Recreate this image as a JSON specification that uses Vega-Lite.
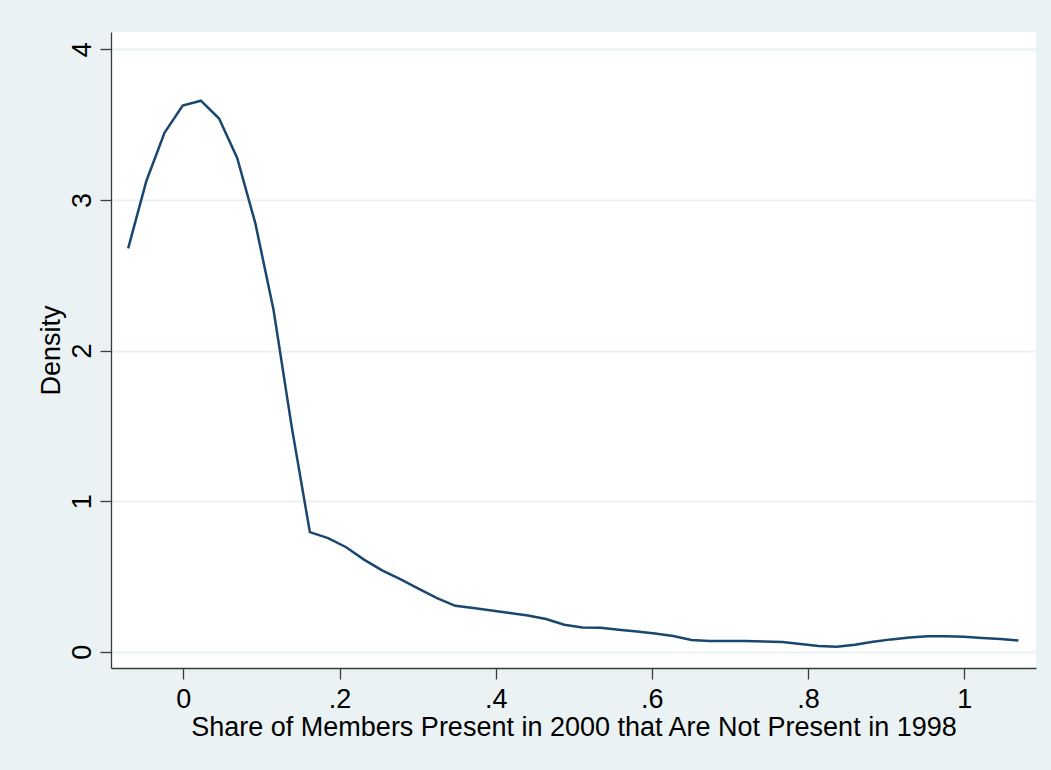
{
  "$schema": "https://vega.github.io/schema/vega-lite/v6.json",
  "width": 925,
  "height": 636,
  "autosize": {"type": "none"},
  "padding": {"left": 111, "top": 32, "right": 15, "bottom": 102},
  "background": "#EAF2F3",
  "config": {
    "view": {"fill": "white", "stroke": null},
    "font": "Liberation Sans"
  },
  "data": {
    "values": [
      {"x": -0.0707, "density": 2.678},
      {"x": -0.0474, "density": 3.126},
      {"x": -0.0242, "density": 3.445},
      {"x": -0.0009, "density": 3.626},
      {"x": 0.0224, "density": 3.659},
      {"x": 0.0457, "density": 3.540},
      {"x": 0.0689, "density": 3.279},
      {"x": 0.0922, "density": 2.844},
      {"x": 0.1155, "density": 2.269},
      {"x": 0.1387, "density": 1.495},
      {"x": 0.1620, "density": 0.794},
      {"x": 0.1853, "density": 0.754},
      {"x": 0.2085, "density": 0.694},
      {"x": 0.2318, "density": 0.610},
      {"x": 0.2551, "density": 0.539},
      {"x": 0.2784, "density": 0.480},
      {"x": 0.3016, "density": 0.418},
      {"x": 0.3249, "density": 0.356},
      {"x": 0.3482, "density": 0.305},
      {"x": 0.3714, "density": 0.290},
      {"x": 0.3947, "density": 0.274},
      {"x": 0.4180, "density": 0.257},
      {"x": 0.4412, "density": 0.241},
      {"x": 0.4645, "density": 0.217},
      {"x": 0.4878, "density": 0.179},
      {"x": 0.5111, "density": 0.161},
      {"x": 0.5343, "density": 0.159},
      {"x": 0.5576, "density": 0.146},
      {"x": 0.5809, "density": 0.135},
      {"x": 0.6041, "density": 0.121},
      {"x": 0.6274, "density": 0.104},
      {"x": 0.6507, "density": 0.078},
      {"x": 0.6739, "density": 0.071},
      {"x": 0.6972, "density": 0.071},
      {"x": 0.7205, "density": 0.071},
      {"x": 0.7438, "density": 0.068},
      {"x": 0.7670, "density": 0.064},
      {"x": 0.7903, "density": 0.052},
      {"x": 0.8136, "density": 0.038},
      {"x": 0.8368, "density": 0.033},
      {"x": 0.8601, "density": 0.046},
      {"x": 0.8834, "density": 0.066},
      {"x": 0.9066, "density": 0.082},
      {"x": 0.9299, "density": 0.095},
      {"x": 0.9532, "density": 0.102},
      {"x": 0.9765, "density": 0.102},
      {"x": 0.9997, "density": 0.100},
      {"x": 1.0230, "density": 0.091},
      {"x": 1.0463, "density": 0.084},
      {"x": 1.0695, "density": 0.075}
    ]
  },
  "mark": {"type": "line", "color": "#1A476F", "strokeWidth": 2.5},
  "encoding": {
    "x": {
      "field": "x",
      "type": "quantitative",
      "scale": {"domain": [-0.0927, 1.092], "nice": false, "zero": false},
      "axis": {
        "title": "Share of Members Present in 2000 that Are Not Present in 1998",
        "values": [0, 0.2, 0.4, 0.6, 0.8, 1],
        "labelExpr": "datum.value == 0 ? '0' : datum.value == 1 ? '1' : replace(format(datum.value, '.1f'), '0.', '.')",
        "grid": false,
        "domainColor": "#3a3a3a",
        "domainWidth": 1.3,
        "tickColor": "#3a3a3a",
        "tickWidth": 1.3,
        "tickSize": 11,
        "labelFont": "Liberation Sans",
        "labelFontSize": 27,
        "labelColor": "#000000",
        "labelBaseline": "alphabetic",
        "labelPadding": 28,
        "labelFlush": false,
        "labelOverlap": false,
        "titleFont": "Liberation Sans",
        "titleFontSize": 27,
        "titleFontWeight": "normal",
        "titleColor": "#000000",
        "titleBaseline": "alphabetic",
        "titleY": 67
      }
    },
    "y": {
      "field": "density",
      "type": "quantitative",
      "scale": {"domain": [-0.108, 4.115], "nice": false, "zero": false},
      "axis": {
        "title": "Density",
        "values": [0, 1, 2, 3, 4],
        "grid": true,
        "gridColor": "#EAF2F3",
        "gridWidth": 2,
        "domainColor": "#3a3a3a",
        "domainWidth": 1.3,
        "tickColor": "#3a3a3a",
        "tickWidth": 1.3,
        "tickSize": 11,
        "labelFont": "Liberation Sans",
        "labelFontSize": 27,
        "labelColor": "#000000",
        "labelAngle": -90,
        "labelAlign": "center",
        "labelBaseline": "alphabetic",
        "labelPadding": 10,
        "labelFlush": false,
        "labelOverlap": false,
        "titleFont": "Liberation Sans",
        "titleFontSize": 27,
        "titleFontWeight": "normal",
        "titleColor": "#000000",
        "titleAngle": -90,
        "titleBaseline": "alphabetic",
        "titleAlign": "center",
        "titleX": -52
      }
    }
  }
}
